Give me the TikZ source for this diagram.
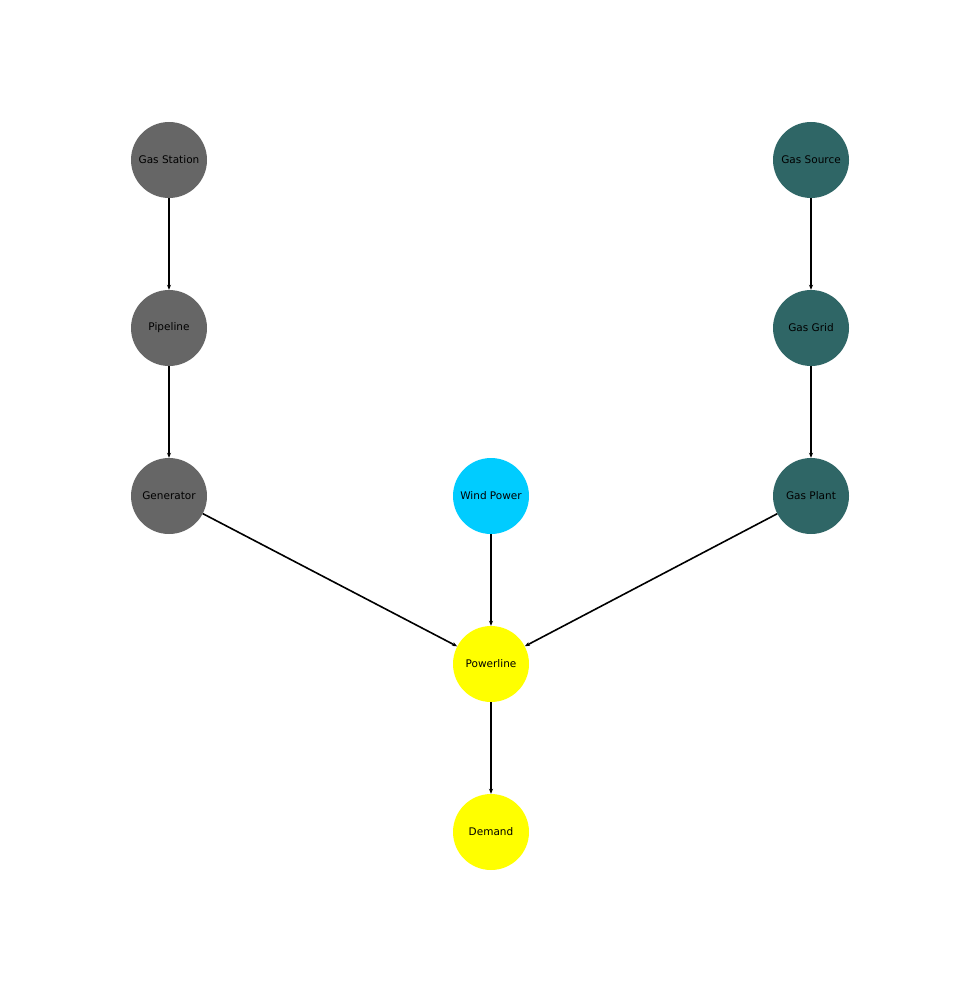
\documentclass[tikz,border=0pt]{standalone}
\usepackage{fontspec}
\setmainfont{DejaVu Sans}
\definecolor{gsGrey}{HTML}{666666}
\definecolor{gsTeal}{HTML}{2F6666}
\definecolor{gsCyan}{HTML}{00CCFF}
\definecolor{gsYellow}{HTML}{FFFF00}
\usetikzlibrary{positioning,arrows.meta}

\begin{document}
\begin{tikzpicture}[x=1pt,y=-1pt,
  station/.style={circle, draw=none, minimum size=76pt, inner sep=0pt,
    font=\fontsize{10.5}{12}\selectfont, text=black},
  arr/.style={-{Stealth[length=5pt,width=4pt]}, line width=1.6pt, color=black}
]
  \useasboundingbox (0,0) rectangle (956,984);

  % left branch
  \node[station, fill=gsGrey] (gasstation) at (169,160) {Gas Station};
  \node[station, fill=gsGrey] (pipeline) at (169,328) {Pipeline};
  \node[station, fill=gsGrey] (generator) at (169,496) {Generator};

  % right branch
  \node[station, fill=gsTeal] (gassource) at (811,160) {Gas Source};
  \node[station, fill=gsTeal] (gasgrid) at (811,328) {Gas Grid};
  \node[station, fill=gsTeal] (gasplant) at (811,496) {Gas Plant};

  % centre
  \node[station, fill=gsCyan] (wind) at (491,496) {Wind Power};
  \node[station, fill=gsYellow] (powerline) at (491,664) {Powerline};
  \node[station, fill=gsYellow] (demand) at (491,832) {Demand};

  \draw[arr] (gasstation) -- (pipeline);
  \draw[arr] (pipeline) -- (generator);
  \draw[arr] (gassource) -- (gasgrid);
  \draw[arr] (gasgrid) -- (gasplant);
  \draw[arr] (generator) -- (powerline);
  \draw[arr] (wind) -- (powerline);
  \draw[arr] (gasplant) -- (powerline);
  \draw[arr] (powerline) -- (demand);
\end{tikzpicture}
\end{document}
